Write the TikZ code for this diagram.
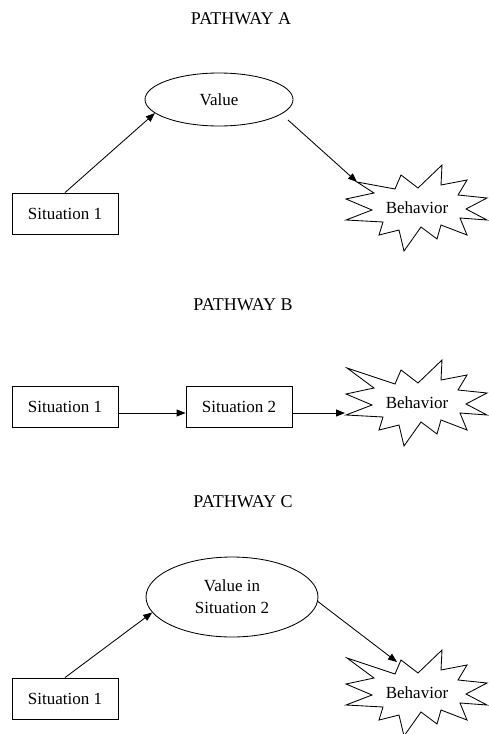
\documentclass[tikz,border=0pt]{standalone}
\usepackage{fontspec}
\setmainfont{Liberation Serif}
\usetikzlibrary{arrows.meta,shapes.geometric}
\tikzset{
  txt/.style={font=\fontsize{17}{22}\selectfont, inner sep=0pt, align=center},
  ttl/.style={font=\fontsize{18}{22}\selectfont, inner sep=0pt},
  sitbox/.style={txt, draw, line width=0.85pt, minimum width=106pt, minimum height=41pt},
  valell/.style={txt, draw, ellipse, line width=0.85pt},
  arr/.style={-{Triangle[length=9pt,width=7pt]}, line width=0.85pt},
  burst/.style={draw, line width=0.85pt, line join=miter}
}
\newcommand\burstpath[2]{%
  \draw[burst, shift={(#1.center)}] (#2) -- (-22,-19) -- (-16,-33) -- (1,-20) -- (25,-43) -- (24,-23)
    -- (50,-28) -- (41,-13) -- (70,-10) -- (49,1) -- (70,12) -- (43,10) -- (50,27) -- (24,17)
    -- (20,31) -- (4,19) -- (-13,43) -- (-18,22) -- (-38,27) -- (-34,14) -- (-71,12) -- (-45,2)
    -- (-71,-9) -- (-43,-15) -- cycle;}
\begin{document}
\begin{tikzpicture}[x=1pt,y=-1pt]
\useasboundingbox (0,0) rectangle (489,734);
% Pathway A
\node[ttl] (titleA) at (241,19) {PATHWAY A};
\node[valell, minimum width=148pt, minimum height=53pt] (valA) at (219,99.5) {Value};
\node[sitbox] (sitA) at (65,213.5) {Situation 1};
\node[txt] (behA) at (417,208) {Behavior};
\burstpath{behA}{-60,-26}
\coordinate (outA) at (288,120);
\coordinate (tipA) at (357,182);
\draw[arr] (sitA.north) -- (valA.192);
\draw[arr] (outA) -- (tipA);
% Pathway B
\node[ttl] (titleB) at (243,305) {PATHWAY B};
\node[sitbox] (sitB) at (65,407) {Situation 1};
\node[sitbox] (sit2B) at (239,407) {Situation 2};
\node[txt] (behB) at (417,403) {Behavior};
\burstpath{behB}{-70,-35}
\coordinate (tipB) at (345,413);
\draw[arr] ([yshift=-6pt]sitB.east) -- ([yshift=-6pt]sit2B.west);
\draw[arr] ([yshift=-6pt]sit2B.east) -- (tipB);
% Pathway C
\node[ttl] (titleC) at (243,502) {PATHWAY C};
\node[valell, minimum width=172pt, minimum height=80pt] (valC) at (232,597) {Value in\\Situation 2};
\node[sitbox] (sitC) at (65,698.5) {Situation 1};
\node[txt] (behC) at (417,693) {Behavior};
\burstpath{behC}{-70,-35}
\coordinate (tipC) at (397,662);
\draw[arr] (sitC.north) -- (valC.191);
\draw[arr] (valC.-3) -- (tipC);
\end{tikzpicture}
\end{document}
